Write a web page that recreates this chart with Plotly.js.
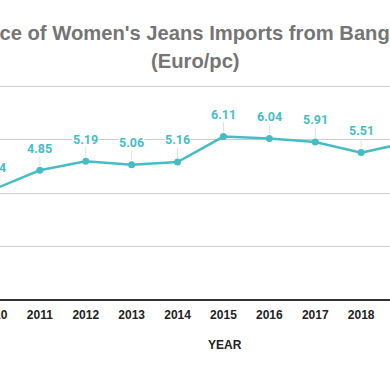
<!DOCTYPE html>
<html>
<head>
<meta charset="utf-8">
<script src="https://cdn.plot.ly/plotly-3.0.1.min.js"></script>
<style>
html,body{margin:0;padding:0;background:#fff;overflow:hidden;width:390px;height:371px}
#wrap{position:relative;width:390px;height:371px;overflow:hidden}
#chart{position:absolute;left:-69px;top:0;width:539px;height:371px}
</style>
</head>
<body>
<div id="wrap"><div id="chart"></div></div>
<script>
const years = [2010, 2011, 2012, 2013, 2014, 2015, 2016, 2017, 2018, 2019];
const prices = [4.14, 4.85, 5.19, 5.06, 5.16, 6.11, 6.04, 5.91, 5.51, 5.88];
const tickLabels = ["2010","2011","2012","2013","2014","2015","2016","2017","2018","2019"];
const titleLine1 = "Average Price of Women's Jeans Imports from Bangladesh";
const titleLine2 = "(Euro/pc)";
const xTitle = "YEAR";

const OFF = 69;       // how far the chart is shifted left (crop)
const ML = 40, MR = 40, MT = 78, MB = 71;
const CW = 539, CH = 371;
const PW = CW - ML - MR;
const PH = CH - MT - MB;
const pageToPaper = px => (px + OFF - ML) / PW;
const pageToPaperY = py => (CH - MB - py) / PH;

const teal = '#46bdc6';
const TSIZE = 20.2;
const titleFont = {family: 'Liberation Sans, Arial, sans-serif', size: TSIZE, color: '#757575', weight: 'bold'};

const cv = document.createElement('canvas').getContext('2d');
cv.font = 'bold ' + TSIZE + 'px "Liberation Sans", Arial, sans-serif';
const prefixW = cv.measureText('Average Pri').width;

const annotations = years.map((yr, i) => ({
  x: yr, y: prices[i], xref: 'x', yref: 'y',
  text: prices[i].toFixed(2),
  showarrow: true, arrowhead: 0, arrowwidth: 1, arrowcolor: '#e0e0e0',
  ax: 0, ay: -22, standoff: 4,
  bgcolor: '#ffffff', borderpad: 0,
  font: {family: 'Roboto, sans-serif', size: 12.5, color: teal, weight: 'bold'}
}));
annotations.push({
  xref: 'paper', yref: 'paper', x: pageToPaper(-3 - prefixW), y: pageToPaperY(33),
  xanchor: 'left', yanchor: 'middle', showarrow: false,
  text: titleLine1, font: titleFont
});
annotations.push({
  xref: 'paper', yref: 'paper', x: pageToPaper(195), y: pageToPaperY(61),
  xanchor: 'center', yanchor: 'middle', showarrow: false,
  text: titleLine2, font: titleFont
});
annotations.push({
  xref: 'paper', yref: 'paper', x: pageToPaper(225), y: pageToPaperY(345),
  xanchor: 'center', yanchor: 'middle', showarrow: false,
  text: xTitle, font: {family: 'Liberation Sans, Arial, sans-serif', size: 12, color: '#222', weight: 'bold'}
});

const trace = {
  x: years, y: prices, type: 'scatter', mode: 'lines+markers',
  line: {color: teal, width: 2.5},
  marker: {color: teal, size: 7},
  cliponaxis: true, hoverinfo: 'none'
};

const layout = {
  width: CW, height: CH,
  margin: {l: ML, r: MR, t: MT, b: MB},
  paper_bgcolor: '#fff', plot_bgcolor: '#fff',
  showlegend: false,
  xaxis: {
    range: [2009.5, 2019.5],
    tickvals: years, ticktext: tickLabels,
    showgrid: false, zeroline: false,
    showline: false, ticks: '',
    tickfont: {family: 'Liberation Sans, Arial, sans-serif', size: 12, color: '#222', weight: 'bold'},
    ticklabelstandoff: 6
  },
  yaxis: {
    range: [0, PH / 26.75], tickvals: [0, 2, 4, 6, 8],
    showgrid: true, gridcolor: '#cccccc', gridwidth: 1,
    zeroline: true, zerolinecolor: '#333', zerolinewidth: 1.3,
    showticklabels: false, ticks: ''
  },
  annotations: annotations
};

Plotly.newPlot('chart', [trace], layout, {staticPlot: true, displayModeBar: false});
</script>
</body>
</html>
